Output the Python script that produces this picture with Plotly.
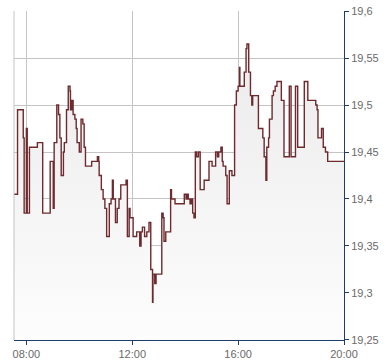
import plotly.graph_objects as go

day = "2024-03-15"

times = [
    "07:32", "07:40", "07:53", "07:55", "08:00", "08:02", "08:07", "08:25", "08:37", "08:54",
    "09:01", "09:03", "09:09", "09:13", "09:16", "09:19", "09:24", "09:26", "09:31", "09:35",
    "09:39", "09:40", "09:43", "09:46", "09:50", "09:53", "09:55", "10:00", "10:04", "10:08",
    "10:11", "10:14", "10:28", "10:41", "10:44", "10:45", "10:50", "10:54", "10:58", "11:02",
    "11:08", "11:12", "11:15", "11:17", "11:22", "11:26", "11:30", "11:34", "11:46", "11:49",
    "11:53", "11:55", "12:02", "12:10", "12:17", "12:20", "12:23", "12:28", "12:33", "12:38",
    "12:42", "12:46", "12:47", "12:51", "12:54", "13:07", "13:10", "13:12", "13:16", "13:27",
    "13:29", "13:37", "13:58", "14:02", "14:05", "14:07", "14:11", "14:14", "14:17", "14:20",
    "14:23", "14:26", "14:30", "14:34", "14:43", "14:54", "15:01", "15:09", "15:13", "15:16",
    "15:21", "15:24", "15:26", "15:32", "15:35", "15:40", "15:46", "15:52", "15:56", "16:00",
    "16:03", "16:04", "16:14", "16:18", "16:20", "16:24", "16:28", "16:31", "16:33", "16:46",
    "16:56", "16:59", "17:03", "17:05", "17:09", "17:11", "17:17", "17:20", "17:24", "17:28",
    "17:38", "17:44", "17:56", "18:00", "18:10", "18:15", "18:30", "18:38", "18:56", "18:59",
    "19:01", "19:09", "19:13", "19:18", "19:23", "20:00",
]

prices = [
    19.405, 19.495, 19.465, 19.385, 19.475, 19.385, 19.455, 19.46, 19.385, 19.44,
    19.39, 19.46, 19.5, 19.49, 19.465, 19.425, 19.45, 19.46, 19.495, 19.52,
    19.515, 19.495, 19.505, 19.49, 19.485, 19.475, 19.46, 19.45, 19.485, 19.48,
    19.455, 19.435, 19.44, 19.445, 19.44, 19.425, 19.41, 19.4, 19.39, 19.36,
    19.395, 19.4, 19.42, 19.4, 19.375, 19.39, 19.4, 19.415, 19.42, 19.36,
    19.39, 19.38, 19.36, 19.365, 19.35, 19.365, 19.37, 19.36, 19.365, 19.375,
    19.325, 19.29, 19.32, 19.31, 19.32, 19.385, 19.38, 19.355, 19.365, 19.41,
    19.4, 19.395, 19.405, 19.4, 19.405, 19.4, 19.395, 19.4, 19.385, 19.38,
    19.45, 19.445, 19.45, 19.41, 19.42, 19.44, 19.435, 19.45, 19.445, 19.45,
    19.455, 19.44, 19.435, 19.425, 19.395, 19.43, 19.425, 19.5, 19.515, 19.52,
    19.54, 19.52, 19.535, 19.56, 19.565, 19.535, 19.51, 19.5, 19.51, 19.475,
    19.465, 19.445, 19.42, 19.455, 19.465, 19.485, 19.51, 19.515, 19.52, 19.525,
    19.505, 19.445, 19.52, 19.445, 19.52, 19.455, 19.525, 19.505, 19.5, 19.495,
    19.465, 19.475, 19.455, 19.45, 19.44, 19.44,
]

y_ticks = [19.25, 19.3, 19.35, 19.4, 19.45, 19.5, 19.55, 19.6]
y_tick_labels = ["19,25", "19,3", "19,35", "19,4", "19,45", "19,5", "19,55", "19,6"]
x_ticks = ["08:00", "12:00", "16:00", "20:00"]
x_start, x_end = "07:32", "20:00"

x = [f"{day} {t}" for t in times]

fig = go.Figure()
fig.add_trace(go.Scatter(
    x=x, y=prices, mode="lines",
    line=dict(shape="hv", color="#6e2a2e", width=1.4),
    fill="tozeroy",
    fillgradient=dict(type="vertical", start=19.25, stop=19.6,
                      colorscale=[[0, "#fdfdfd"], [1, "#e9e9e9"]]),
    hoverinfo="skip",
))

axis_font = dict(family="Liberation Sans, Arial, sans-serif", size=11, color="#6a6a6a")
navy = "#1f3d6b"

fig.update_layout(
    width=390, height=364,
    margin=dict(l=14, r=46, t=11, b=24, autoexpand=False),
    paper_bgcolor="white", plot_bgcolor="white",
    showlegend=False,
    separators=",.",
    xaxis=dict(
        type="date",
        range=[f"{day} {x_start}", f"{day} {x_end}"],
        tickvals=[f"{day} {t}" for t in x_ticks],
        tickformat="%H:%M",
        ticks="outside", ticklen=4, tickcolor=navy, tickwidth=1,
        showline=True, linecolor=navy, linewidth=1,
        showgrid=True, gridcolor="#c4c4c4", gridwidth=1,
        tickfont=axis_font, zeroline=False,
    ),
    yaxis=dict(
        side="right",
        range=[19.2499, 19.6001],
        tickvals=y_ticks, ticktext=y_tick_labels,
        ticks="outside", ticklen=4, tickcolor=navy, tickwidth=1,
        showline=True, linecolor=navy, linewidth=1,
        showgrid=True, gridcolor="#c4c4c4", gridwidth=1,
        tickfont=axis_font, zeroline=False,
    ),
    shapes=[dict(type="line", xref="paper", yref="paper", x0=0, x1=0, y0=0, y1=1,
                 line=dict(color="#c4c4c4", width=1))],
)

fig.write_html("out.html")
